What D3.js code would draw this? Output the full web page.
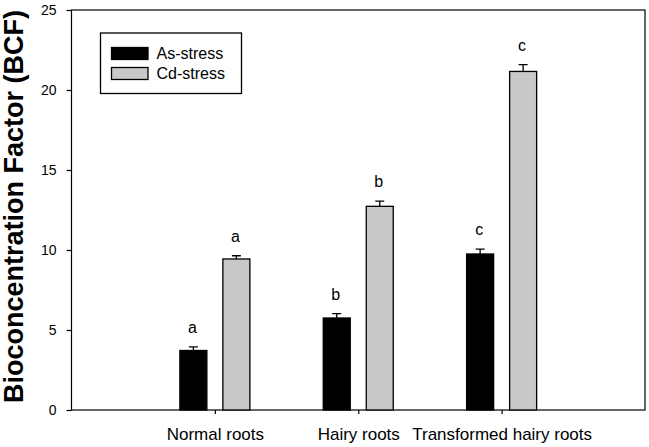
<!DOCTYPE html>
<html>
<head>
<meta charset="utf-8">
<script src="https://cdn.jsdelivr.net/npm/d3@7"></script>
<style>
  body { margin: 0; background: #fff; }
  svg { display: block; font-family: "Liberation Sans", Arial, sans-serif; }
</style>
</head>
<body>
<div id="chart"></div>
<script>
// data
var categories = ["Normal roots", "Hairy roots", "Transformed hairy roots"];
var seriesNames = ["As-stress", "Cd-stress"];
var seriesColors = ["#000000", "#c8c8c8"];
var asValues = [3.72, 5.75, 9.75];
var asErrors = [0.22, 0.27, 0.31];
var cdValues = [9.44, 12.73, 21.16];
var cdErrors = [0.2, 0.33, 0.42];
var asLetters = ["a", "b", "c"];
var cdLetters = ["a", "b", "c"];
var yTicks = [0, 5, 10, 15, 20, 25];

var W = 649, H = 447;
var margin = {top: 10, right: 4, bottom: 37, left: 71.5},
    width = W - margin.left - margin.right,
    height = H - margin.top - margin.bottom;

var svg = d3.select("#chart").append("svg")
    .attr("width", W)
    .attr("height", H);

var g = svg.append("g")
    .attr("transform", "translate(" + margin.left + "," + margin.top + ")");

// categories sit at 1,2,3 on a 0..4 axis
var x = d3.scaleLinear().domain([0, 4]).range([0, width]);
var y = d3.scaleLinear().domain([0, 25]).range([height, 0]);
var sub = d3.scaleBand().domain(seriesNames).range([-35, 35]).paddingInner(0.372);

var rows = [];
categories.forEach(function(c, i) {
  rows.push({cat: i + 1, s: seriesNames[0], v: asValues[i], e: asErrors[i], l: asLetters[i], col: seriesColors[0]});
  rows.push({cat: i + 1, s: seriesNames[1], v: cdValues[i], e: cdErrors[i], l: cdLetters[i], col: seriesColors[1]});
});

// frame
g.append("rect")
    .attr("x", 0).attr("y", 0)
    .attr("width", width).attr("height", height)
    .attr("fill", "none")
    .attr("stroke", "#000")
    .attr("stroke-width", 1.2);

// y axis
var yAxis = g.append("g")
    .call(d3.axisLeft(y).tickValues(yTicks).tickSize(5).tickPadding(10).tickFormat(d3.format("d")));
yAxis.select(".domain").remove();
yAxis.selectAll("line").attr("stroke-width", 1.2);
yAxis.selectAll("text")
    .style("font-size", "14px")
    .style("font-family", "Liberation Sans, Arial, sans-serif")
    .attr("fill", "#000");

// x axis
var xAxis = g.append("g")
    .attr("transform", "translate(0," + height + ")")
    .call(d3.axisBottom(x).tickValues([1, 2, 3]).tickSize(4)
      .tickFormat(function(d) { return categories[d - 1]; }));
xAxis.select(".domain").remove();
xAxis.selectAll("line").attr("stroke-width", 1.2);
xAxis.selectAll("text")
    .attr("y", 30)
    .attr("dy", 0)
    .style("font-size", "17px")
    .style("font-family", "Liberation Sans, Arial, sans-serif")
    .attr("fill", "#000");

// bars
g.selectAll(".bar")
    .data(rows)
  .enter().append("rect")
    .attr("class", "bar")
    .attr("x", function(d) { return x(d.cat) + sub(d.s); })
    .attr("y", function(d) { return y(d.v); })
    .attr("width", sub.bandwidth())
    .attr("height", function(d) { return y(0) - y(d.v); })
    .attr("fill", function(d) { return d.col; })
    .attr("stroke", "#000")
    .attr("stroke-width", 1.3);

// error bars (upper only)
var cx = function(d) { return x(d.cat) + sub(d.s) + sub.bandwidth() / 2; };
g.selectAll(".err")
    .data(rows)
  .enter().append("path")
    .attr("class", "err")
    .attr("d", function(d) {
      var top = y(d.v + d.e);
      return "M" + cx(d) + "," + y(d.v) + "V" + top +
             "M" + (cx(d) - 4.5) + "," + top + "H" + (cx(d) + 4.5);
    })
    .attr("fill", "none")
    .attr("stroke", "#000")
    .attr("stroke-width", 1.3);

// significance letters
g.selectAll(".letter")
    .data(rows)
  .enter().append("text")
    .attr("class", "letter")
    .attr("x", function(d) { return cx(d) - 1; })
    .attr("y", function(d) { return y(d.v + d.e) - 14; })
    .attr("text-anchor", "middle")
    .style("font-size", "16px")
    .text(function(d) { return d.l; });

// legend
var legend = g.append("g").attr("transform", "translate(29,23)");
legend.append("rect")
    .attr("x", 0).attr("y", 0)
    .attr("width", 141).attr("height", 60.5)
    .attr("fill", "#fff")
    .attr("stroke", "#000")
    .attr("stroke-width", 1.3);
var items = legend.selectAll(".item")
    .data(seriesNames)
  .enter().append("g")
    .attr("transform", function(d, i) { return "translate(11," + (14.5 + i * 20) + ")"; });
items.append("rect")
    .attr("width", 36.5).attr("height", 12)
    .attr("fill", function(d, i) { return seriesColors[i]; })
    .attr("stroke", "#000")
    .attr("stroke-width", 1.3);
items.append("text")
    .attr("x", 45)
    .attr("y", 6)
    .attr("dy", "0.35em")
    .style("font-size", "16px")
    .text(function(d) { return d; });

// y title
svg.append("text")
    .attr("transform", "rotate(-90)")
    .attr("x", -206.5)
    .attr("y", 23)
    .attr("text-anchor", "middle")
    .style("font-size", "27px")
    .style("font-weight", "bold")
    .text("Bioconcentration Factor (BCF)");
</script>
</body>
</html>
